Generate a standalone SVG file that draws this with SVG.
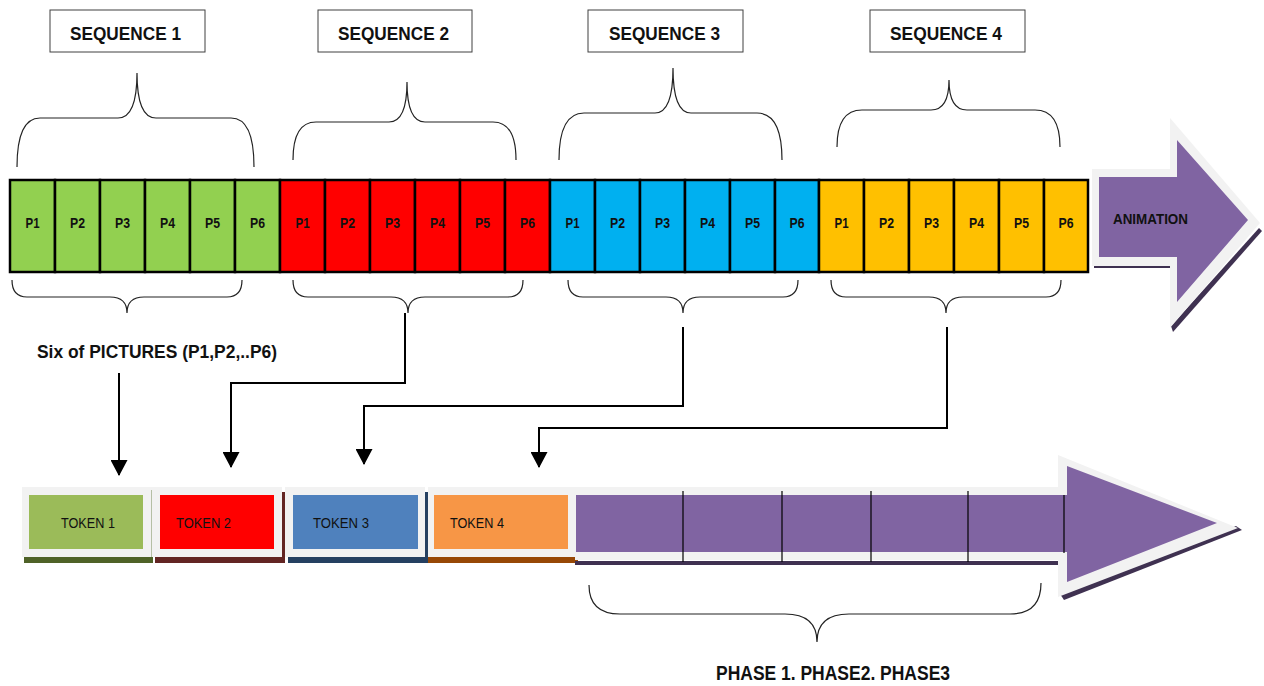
<svg xmlns="http://www.w3.org/2000/svg" width="1264" height="686" viewBox="0 0 1264 686">
<style>
.lbl{fill:#fff;stroke:#404040;stroke-width:1}
.lt{font-family:"Liberation Sans",Arial,sans-serif;font-weight:bold;font-size:19px;fill:#111}
.brace{fill:none;stroke:#222;stroke-width:1.2}
.cell{stroke:#000;stroke-width:2.5}
.g{fill:#92D050}.r{fill:#FF0000}.b{fill:#00B0F0}.y{fill:#FFC000}
.pt{font-family:"Liberation Sans",Arial,sans-serif;font-weight:bold;font-size:14px;fill:#111;text-anchor:middle}
.con{fill:none;stroke:#000;stroke-width:2}
.tk{font-family:"Liberation Sans",Arial,sans-serif;font-size:15.5px;fill:#111}
.panel{fill:#F2F2F2}
.bt{font-family:"Liberation Sans",Arial,sans-serif;font-weight:bold;fill:#111}
.div{stroke:#000;stroke-width:1.2}
</style>
<defs>
<marker id="ah" markerUnits="userSpaceOnUse" markerWidth="17" markerHeight="17" refX="15" refY="8.5" orient="auto">
<path d="M0,0 L16,8.5 L0,17 z" fill="#000"/>
</marker>
</defs>

<g id="seq1">
<rect class="lbl" x="50" y="10" width="155" height="42"/>
<text class="lt" x="70" y="40" textLength="111" lengthAdjust="spacingAndGlyphs">SEQUENCE 1</text>
<path class="brace" d="M17,167 Q17,118 40,118 L118,118 Q137,118 137,73 Q137,118 156,118 L231,118 Q254,118 254,167"/>
<g>
<rect class="cell g" x="10" y="180" width="45" height="92"/><text class="pt" x="32.5" y="228" textLength="14" lengthAdjust="spacingAndGlyphs">P1</text>
<rect class="cell g" x="55" y="180" width="45" height="92"/><text class="pt" x="77.5" y="228" textLength="15" lengthAdjust="spacingAndGlyphs">P2</text>
<rect class="cell g" x="100" y="180" width="45" height="92"/><text class="pt" x="122.5" y="228" textLength="15" lengthAdjust="spacingAndGlyphs">P3</text>
<rect class="cell g" x="145" y="180" width="45" height="92"/><text class="pt" x="167.5" y="228" textLength="15" lengthAdjust="spacingAndGlyphs">P4</text>
<rect class="cell g" x="190" y="180" width="45" height="92"/><text class="pt" x="212.5" y="228" textLength="15" lengthAdjust="spacingAndGlyphs">P5</text>
<rect class="cell g" x="235" y="180" width="45" height="92"/><text class="pt" x="257.5" y="228" textLength="15" lengthAdjust="spacingAndGlyphs">P6</text>
</g>
<path class="brace" d="M12,280 Q12,297 27,297 L110,297 Q127,297 127,313 Q127,297 144,297 L227,297 Q242,297 242,280"/>
</g>

<g id="seq2">
<rect class="lbl" x="318" y="10" width="154" height="42"/>
<text class="lt" x="338" y="40" textLength="111" lengthAdjust="spacingAndGlyphs">SEQUENCE 2</text>
<path class="brace" d="M293,160 Q293,122 316,122 L389,122 Q407,122 407,82 Q407,122 425,122 L493,122 Q516,122 516,160"/>
<g>
<rect class="cell r" x="280" y="180" width="45" height="92"/><text class="pt" x="302.5" y="228" textLength="14" lengthAdjust="spacingAndGlyphs">P1</text>
<rect class="cell r" x="325" y="180" width="45" height="92"/><text class="pt" x="347.5" y="228" textLength="15" lengthAdjust="spacingAndGlyphs">P2</text>
<rect class="cell r" x="370" y="180" width="45" height="92"/><text class="pt" x="392.5" y="228" textLength="15" lengthAdjust="spacingAndGlyphs">P3</text>
<rect class="cell r" x="415" y="180" width="45" height="92"/><text class="pt" x="437.5" y="228" textLength="15" lengthAdjust="spacingAndGlyphs">P4</text>
<rect class="cell r" x="460" y="180" width="45" height="92"/><text class="pt" x="482.5" y="228" textLength="15" lengthAdjust="spacingAndGlyphs">P5</text>
<rect class="cell r" x="505" y="180" width="45" height="92"/><text class="pt" x="527.5" y="228" textLength="15" lengthAdjust="spacingAndGlyphs">P6</text>
</g>
<path class="brace" d="M293,280 Q293,297 308,297 L391,297 Q408,297 408,313 Q408,297 425,297 L508,297 Q523,297 523,280"/>
</g>

<g id="seq3">
<rect class="lbl" x="588" y="10" width="155" height="42"/>
<text class="lt" x="609" y="40" textLength="111" lengthAdjust="spacingAndGlyphs">SEQUENCE 3</text>
<path class="brace" d="M559,160 Q559,113 584,113 L655,113 Q673,113 673,68 Q673,113 691,113 L757,113 Q782,113 782,160"/>
<g>
<rect class="cell b" x="550" y="180" width="45" height="92"/><text class="pt" x="572.5" y="228" textLength="14" lengthAdjust="spacingAndGlyphs">P1</text>
<rect class="cell b" x="595" y="180" width="45" height="92"/><text class="pt" x="617.5" y="228" textLength="15" lengthAdjust="spacingAndGlyphs">P2</text>
<rect class="cell b" x="640" y="180" width="45" height="92"/><text class="pt" x="662.5" y="228" textLength="15" lengthAdjust="spacingAndGlyphs">P3</text>
<rect class="cell b" x="685" y="180" width="45" height="92"/><text class="pt" x="707.5" y="228" textLength="15" lengthAdjust="spacingAndGlyphs">P4</text>
<rect class="cell b" x="730" y="180" width="45" height="92"/><text class="pt" x="752.5" y="228" textLength="15" lengthAdjust="spacingAndGlyphs">P5</text>
<rect class="cell b" x="775" y="180" width="44" height="92"/><text class="pt" x="797" y="228" textLength="15" lengthAdjust="spacingAndGlyphs">P6</text>
</g>
<path class="brace" d="M568,280 Q568,297 583,297 L666,297 Q683,297 683,313 Q683,297 700,297 L783,297 Q798,297 798,280"/>
</g>

<g id="seq4">
<rect class="lbl" x="870" y="10" width="155" height="42"/>
<text class="lt" x="890" y="40" textLength="112" lengthAdjust="spacingAndGlyphs">SEQUENCE 4</text>
<path class="brace" d="M837,147 Q837,110 862,110 L931,110 Q949,110 949,80 Q949,110 967,110 L1035,110 Q1060,110 1060,147"/>
<g>
<rect class="cell y" x="819" y="180" width="45" height="92"/><text class="pt" x="841.5" y="228" textLength="14" lengthAdjust="spacingAndGlyphs">P1</text>
<rect class="cell y" x="864" y="180" width="45" height="92"/><text class="pt" x="886.5" y="228" textLength="15" lengthAdjust="spacingAndGlyphs">P2</text>
<rect class="cell y" x="909" y="180" width="45" height="92"/><text class="pt" x="931.5" y="228" textLength="15" lengthAdjust="spacingAndGlyphs">P3</text>
<rect class="cell y" x="954" y="180" width="45" height="92"/><text class="pt" x="976.5" y="228" textLength="15" lengthAdjust="spacingAndGlyphs">P4</text>
<rect class="cell y" x="999" y="180" width="45" height="92"/><text class="pt" x="1021.5" y="228" textLength="15" lengthAdjust="spacingAndGlyphs">P5</text>
<rect class="cell y" x="1044" y="180" width="44" height="92"/><text class="pt" x="1066" y="228" textLength="15" lengthAdjust="spacingAndGlyphs">P6</text>
</g>
<path class="brace" d="M831,280 Q831,297 846,297 L929,297 Q946,297 946,313 Q946,297 963,297 L1046,297 Q1061,297 1061,280"/>
</g>

<g id="animation">
<rect x="1094" y="264" width="76" height="4" fill="#3F3151"/>
<polygon points="1171,326 1259,228 1262,231 1173,332" fill="#3F3151"/>
<polygon points="1092,169 1170,169 1170,118 1260,223 1170,328 1170,266 1092,266" fill="#F2F2F2"/>
<polygon points="1099,177 1177,177 1177,140 1248,220 1177,302 1177,257 1099,257" fill="#8064A2"/>
<text class="bt" x="1113" y="224" font-size="14.5" textLength="75" lengthAdjust="spacingAndGlyphs">ANIMATION</text>
</g>

<g id="caption">
<text class="bt" x="37" y="358" font-size="19" textLength="240" lengthAdjust="spacingAndGlyphs">Six of PICTURES (P1,P2,..P6)</text>
</g>

<g id="connectors">
<path class="con" d="M119,373 V475" marker-end="url(#ah)"/>
<path class="con" d="M405,313 V383 H231 V467" marker-end="url(#ah)"/>
<path class="con" d="M683,327 V406 H364 V464" marker-end="url(#ah)"/>
<path class="con" d="M947,327 V428 H539 V467" marker-end="url(#ah)"/>
</g>

<g id="token1">
<rect class="panel" x="22" y="487" width="130" height="70"/>
<rect x="151" y="490" width="2" height="67" fill="#B5BFA5"/>
<rect x="24" y="557" width="129" height="6" fill="#4F6228"/>
<rect x="29" y="495" width="114" height="54" fill="#9BBB59"/>
<text class="tk" x="61" y="528" textLength="54" lengthAdjust="spacingAndGlyphs">TOKEN 1</text>
</g>
<g id="token2">
<rect class="panel" x="152" y="487" width="130" height="70"/>
<rect x="282" y="492" width="3" height="71" fill="#632523"/>
<rect x="155" y="557" width="130" height="6" fill="#632523"/>
<rect x="160" y="495" width="114" height="54" fill="#FF0000"/>
<text class="tk" x="176" y="528" textLength="55" lengthAdjust="spacingAndGlyphs">TOKEN 2</text>
</g>
<g id="token3">
<rect class="panel" x="285" y="487" width="140" height="70"/>
<rect x="425" y="492" width="3" height="71" fill="#254061"/>
<rect x="288" y="557" width="140" height="6" fill="#254061"/>
<rect x="293" y="495" width="125" height="54" fill="#4F81BD"/>
<text class="tk" x="313" y="528" textLength="56" lengthAdjust="spacingAndGlyphs">TOKEN 3</text>
</g>
<g id="token4">
<rect class="panel" x="428" y="487" width="147" height="70"/>
<rect x="428" y="557" width="150" height="6" fill="#974806"/>
<rect x="434" y="495" width="134" height="54" fill="#F79646"/>
<text class="tk" x="450" y="528" textLength="54" lengthAdjust="spacingAndGlyphs">TOKEN 4</text>
</g>

<g id="phases">
<rect x="575" y="561" width="485" height="4" fill="#3F3151"/>
<polygon points="1060,594 1236,526 1242,530 1064,600" fill="#3F3151"/>
<polygon points="575,487 1058,487 1058,455 1238,528 1058,597 1058,560 575,560" fill="#F2F2F2"/>
<polygon points="576,495 1067,495 1067,466 1217,523 1067,582 1067,552 576,552" fill="#8064A2"/>
<line class="div" x1="683" y1="491" x2="683" y2="562"/>
<line class="div" x1="782" y1="491" x2="782" y2="562"/>
<line class="div" x1="871" y1="491" x2="871" y2="562"/>
<line class="div" x1="968" y1="491" x2="968" y2="562"/>
<line class="div" x1="1064" y1="495" x2="1064" y2="553"/>
<path class="brace" d="M589,585 Q589,614 620,614 L785,614 Q817,614 817,642 Q817,614 849,614 L1010,614 Q1041,614 1041,583"/>
<text class="bt" x="716" y="680" font-size="20" textLength="234" lengthAdjust="spacingAndGlyphs">PHASE 1. PHASE2. PHASE3</text>
</g>
</svg>
